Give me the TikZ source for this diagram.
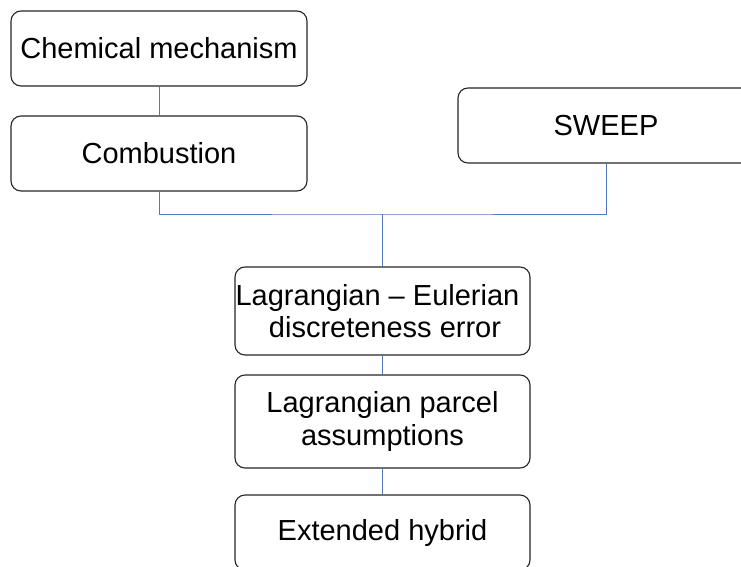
\documentclass[tikz,border=0pt]{standalone}
\usepackage{fontspec}
\setmainfont{Liberation Sans}
\begin{document}
\begin{tikzpicture}[x=1pt,y=-1pt,
  box/.style={draw=black!85, line width=1.1pt, rounded corners=10pt,
    inner sep=0pt, align=center, minimum width=#1, anchor=center,
    font=\fontsize{29}{32.5}\selectfont},
  link/.style={line width=0.9pt, draw={rgb,255:red,79;green,120;blue,190}}]
\useasboundingbox (0,0) rectangle (741,567);
\clip (0,0) rectangle (741,567);
\fill[white] (0,0) rectangle (741,567);

% upper left column
\node[box=296pt, minimum height=75pt] (mech) at (159,48.5) {Chemical mechanism};
\node[box=296pt, minimum height=75pt] (comb) at (159,153.5) {Combustion};
% upper right box
\node[box=296pt, minimum height=75pt] (sweep) at (606,125.5) {SWEEP};
% central column
\node[box=295pt, minimum height=88pt] (lee) at (382.5,311)
  {Lagrangian -- Eulerian\hspace*{10pt}\\ \hspace*{5pt}discreteness error};
\node[box=295pt, minimum height=93pt] (lpa) at (382.5,421.5) {Lagrangian parcel\\ assumptions};
\node[box=295pt, minimum height=75pt] (ext) at (382.5,532.5) {Extended hybrid};

\coordinate (join) at (382.5,214);

% connectors
\draw[link] (mech.south) -- (comb.north);
\draw[link] (comb.south) |- (join) -| (sweep.south);
\draw[link] (join) -- (lee.north);
\draw[link] (lee.south) -- (lpa.north);
\draw[link] (lpa.south) -- (ext.north);
\end{tikzpicture}
\end{document}
